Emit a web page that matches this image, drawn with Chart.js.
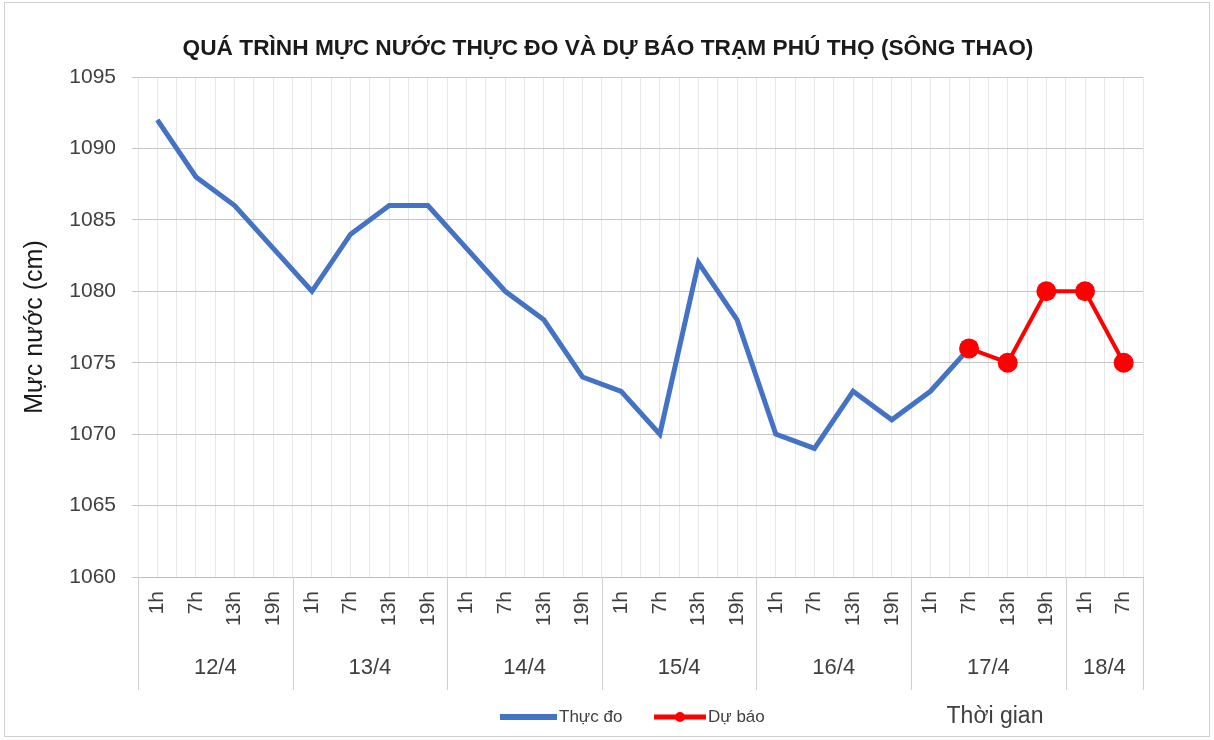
<!DOCTYPE html>
<html>
<head>
<meta charset="utf-8">
<script src="https://cdn.jsdelivr.net/npm/chart.js@4"></script>
<style>
  html, body { margin: 0; padding: 0; background: #fff; }
  #wrap { width: 1214px; height: 740px; }
</style>
</head>
<body>
<div id="wrap"><canvas id="chart" width="1214" height="740"></canvas></div>
<script>
// Nhãn thời gian (trục X) và nhóm ngày
const timeLabels = [
  '1h', '7h', '13h', '19h',
  '1h', '7h', '13h', '19h',
  '1h', '7h', '13h', '19h',
  '1h', '7h', '13h', '19h',
  '1h', '7h', '13h', '19h',
  '1h', '7h', '13h', '19h',
  '1h', '7h'
];
const dayLabels = ['12/4', '13/4', '14/4', '15/4', '16/4', '17/4', '18/4'];
const daySpans = [4, 4, 4, 4, 4, 4, 2];

// Mực nước thực đo (cm)
const thucDo = [1092, 1088, 1086, 1083, 1080, 1084, 1086, 1086, 1083, 1080, 1078, 1074,
  1073, 1070, 1082, 1078, 1070, 1069, 1073, 1071, 1073, 1076, null, null, null, null];
// Mực nước dự báo (cm)
const duBao = [null, null, null, null, null, null, null, null, null, null, null, null,
  null, null, null, null, null, null, null, null, null, 1076, 1075, 1080, 1080, 1075];

const yTicks = [1060, 1065, 1070, 1075, 1080, 1085, 1090, 1095];

const TITLE = 'QUÁ TRÌNH MỰC NƯỚC THỰC ĐO VÀ DỰ BÁO TRẠM PHÚ THỌ (SÔNG THAO)';
const BLUE = '#4472C4';
const RED = '#FF0000';
const TEXT = '#404040';
const FONT = '"Liberation Sans", Arial, sans-serif';

// Vẽ khung, tiêu đề, nhãn ngày, chú giải và tên trục X
const extras = {
  id: 'extras',
  beforeDraw(chart) {
    const ctx = chart.ctx;
    ctx.save();
    ctx.fillStyle = '#fff';
    ctx.fillRect(0, 0, chart.width, chart.height);
    ctx.strokeStyle = '#d0d0d0';
    ctx.lineWidth = 1;
    ctx.strokeRect(4.5, 2.5, chart.width - 9, chart.height - 6);
    ctx.restore();
  },
  afterDraw(chart) {
    const ctx = chart.ctx;
    const x = chart.scales.x;
    const area = chart.chartArea;
    const half = (x.getPixelForValue(1) - x.getPixelForValue(0)) / 2;
    ctx.save();
    // tiêu đề
    ctx.fillStyle = '#1a1a1a';
    ctx.font = 'bold 22.7px ' + FONT;
    ctx.textAlign = 'center';
    ctx.textBaseline = 'middle';
    ctx.fillText(TITLE, 608, 49);
    // các vạch phân cách ngày
    ctx.strokeStyle = '#d0d0d0';
    ctx.lineWidth = 1;
    let start = 0;
    const bounds = [start];
    daySpans.forEach(n => { start += n; bounds.push(start); });
    bounds.forEach(b => {
      const px = Math.round(x.getPixelForValue(b) - half) + 0.5;
      ctx.beginPath();
      ctx.moveTo(px, area.bottom);
      ctx.lineTo(px, area.bottom + 113);
      ctx.stroke();
    });
    // nhãn ngày
    ctx.fillStyle = TEXT;
    ctx.font = '22px ' + FONT;
    dayLabels.forEach((d, i) => {
      const l = x.getPixelForValue(bounds[i]) - half;
      const r = x.getPixelForValue(bounds[i + 1]) - half;
      ctx.fillText(d, (l + r) / 2, area.bottom + 91);
    });
    // chú giải
    const ly = 717;
    ctx.lineCap = 'butt';
    ctx.strokeStyle = BLUE;
    ctx.lineWidth = 6;
    ctx.beginPath(); ctx.moveTo(500, ly); ctx.lineTo(557, ly); ctx.stroke();
    ctx.strokeStyle = RED;
    ctx.lineWidth = 5;
    ctx.beginPath(); ctx.moveTo(654, ly); ctx.lineTo(706, ly); ctx.stroke();
    ctx.fillStyle = RED;
    ctx.beginPath(); ctx.arc(680, ly, 5, 0, Math.PI * 2); ctx.fill();
    ctx.fillStyle = TEXT;
    ctx.textAlign = 'left';
    ctx.font = '17px ' + FONT;
    ctx.fillText('Thực đo', 559, ly);
    ctx.fillText('Dự báo', 708, ly);
    // tên trục X
    ctx.textAlign = 'center';
    ctx.font = '23px ' + FONT;
    ctx.fillText('Thời gian', 995, ly);
    ctx.restore();
  }
};

new Chart(document.getElementById('chart'), {
  type: 'line',
  data: {
    labels: timeLabels,
    datasets: [
      {
        label: 'Dự báo',
        data: duBao,
        borderColor: RED,
        backgroundColor: RED,
        borderWidth: 4,
        pointRadius: 10,
        pointBorderWidth: 0,
        pointBackgroundColor: RED,
        tension: 0,
        order: 0
      },
      {
        label: 'Thực đo',
        data: thucDo,
        borderColor: BLUE,
        borderWidth: 5,
        pointRadius: 0,
        tension: 0,
        order: 1
      }
    ]
  },
  options: {
    responsive: false,
    animation: false,
    layout: { padding: { left: 20, right: 71, top: 77, bottom: 50 } },
    plugins: {
      legend: { display: false },
      tooltip: { enabled: false },
      title: { display: false }
    },
    scales: {
      x: {
        type: 'category',
        offset: true,
        grid: { offset: false, color: '#e6e6e6', drawTicks: false },
        border: { display: true, color: '#bfbfbf' },
        ticks: {
          color: TEXT,
          minRotation: 90,
          maxRotation: 90,
          autoSkip: false,
          padding: 14,
          font: { family: FONT, size: 21 }
        },
        afterFit(axis) { axis.height = 113; }
      },
      x2: {
        type: 'category',
        labels: timeLabels,
        position: 'top',
        offset: true,
        grid: { offset: true, color: '#e6e6e6', drawTicks: false },
        border: { display: false },
        ticks: { display: false },
        afterFit(axis) { axis.height = 0; }
      },
      y: {
        min: 1060,
        max: 1095,
        afterBuildTicks(axis) { axis.ticks = yTicks.map(v => ({ value: v })); },
        grid: { color: '#c4c4c4', tickLength: 6 },
        border: { display: false },
        ticks: {
          color: TEXT,
          padding: 16,
          font: { family: FONT, size: 21 },
          callback: v => String(v)
        },
        title: {
          display: true,
          text: 'Mực nước (cm)',
          color: '#1a1a1a',
          font: { family: FONT, size: 25 },
          padding: { top: 0, bottom: 0 }
        },
        afterFit(axis) { axis.width = 118; }
      }
    }
  },
  plugins: [extras]
});
</script>
</body>
</html>
